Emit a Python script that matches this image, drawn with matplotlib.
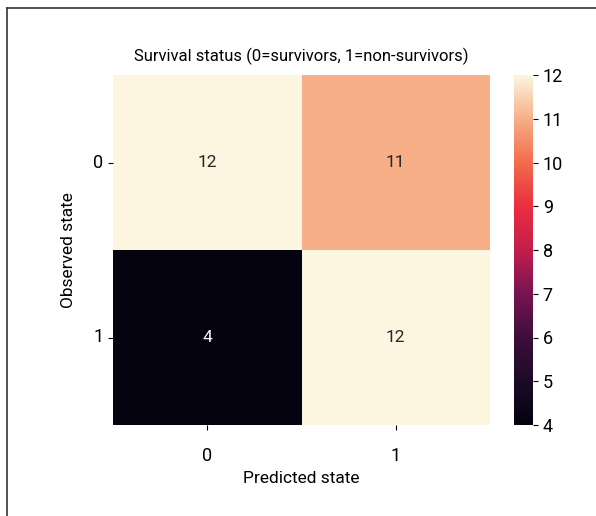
import numpy as np
import matplotlib
matplotlib.use("Agg")
import matplotlib.pyplot as plt
import seaborn as sns
from matplotlib.colors import LinearSegmentedColormap

plt.rcParams['font.family'] = ['Roboto', 'DejaVu Sans']

# confusion matrix
rows = ["0", "1"]
cols = ["0", "1"]
counts = np.array([[12, 11],
                   [4, 12]])

# rocket-like map, a bit more saturated like the reference print
stops = ["#04030F", "#1B0B26", "#3E0D3C", "#761451", "#C21E4C",
         "#EB2D40", "#F26B4C", "#F7AD86", "#FCF5E0"]
cmap = LinearSegmentedColormap.from_list("rocket_sat", stops)

fig = plt.figure(figsize=(5.96, 5.16), dpi=100)
ax = fig.add_axes([113 / 596, 1 - 425 / 516, 377 / 596, 350 / 516])
cax = fig.add_axes([514 / 596, 1 - 425 / 516, 19 / 596, 350 / 516])

sns.heatmap(counts, annot=True, fmt="d", ax=ax, cbar_ax=cax, cmap=cmap,
            xticklabels=cols, yticklabels=rows,
            annot_kws={"fontsize": 12.5})

ax.set_title("Survival status (0=survivors, 1=non-survivors)", fontsize=12, pad=10)
ax.set_xlabel("Predicted state", fontsize=12.5, labelpad=5)
ax.set_ylabel("Observed state", fontsize=12.5, labelpad=12)
ax.tick_params(labelsize=13)
ax.tick_params(axis="x", pad=12)
ax.set_yticklabels(rows, rotation=0)
cax.tick_params(labelsize=13)

# frame around figure (cropped on right/bottom)
fig.add_artist(plt.Line2D([7 / 596, 7 / 596], [0, 1 - 8 / 516], transform=fig.transFigure, color="#333333", lw=1.2))
fig.add_artist(plt.Line2D([7 / 596, 1], [1 - 8 / 516, 1 - 8 / 516], transform=fig.transFigure, color="#333333", lw=1.2))

fig.savefig("out.png", dpi=100)
